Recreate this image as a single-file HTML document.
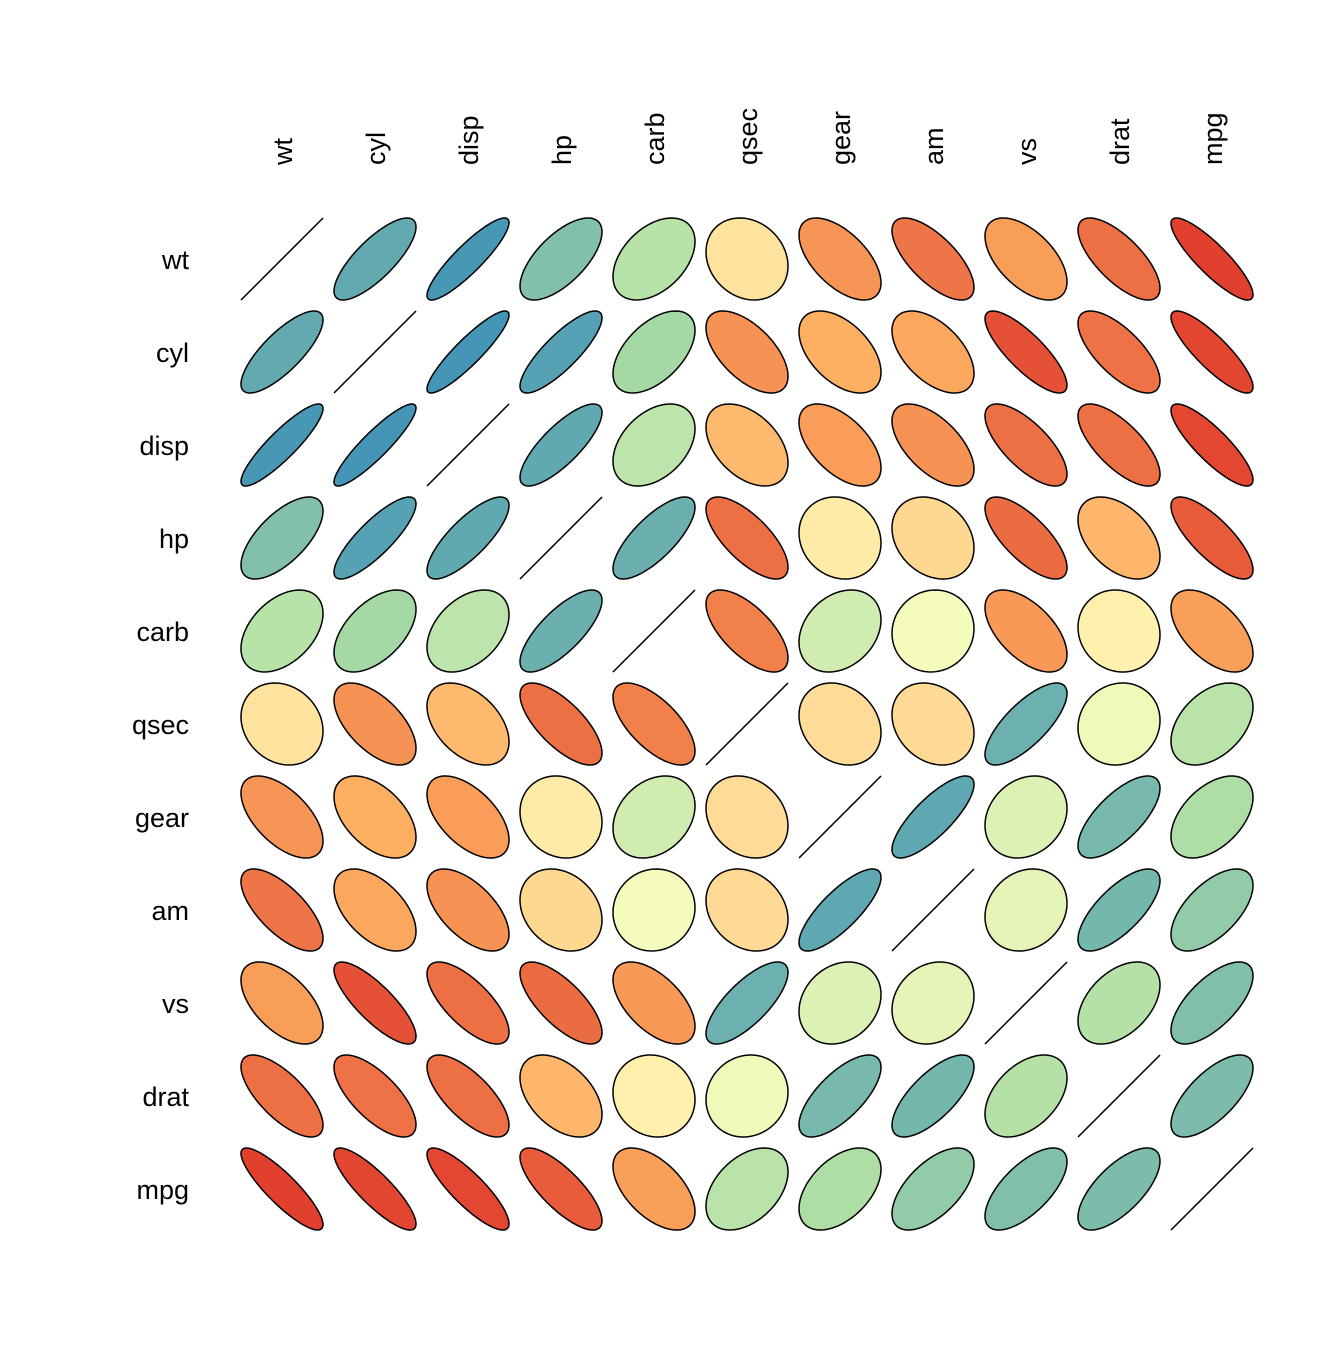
<!DOCTYPE html>
<html><head><meta charset="utf-8">
<style>
html,body{margin:0;padding:0;background:#fff;}
text{font-family:"Liberation Sans",Arial,sans-serif;font-size:27px;fill:#000;}
</style></head>
<body>
<svg id="chart" width="1344" height="1344" viewBox="0 0 1344 1344" xmlns="http://www.w3.org/2000/svg">
<g id="labels"></g>
<g id="cells"></g>
</svg>
<script>
const variables = ["wt","cyl","disp","hp","carb","qsec","gear","am","vs","drat","mpg"];
const corrWt   = [1,0.782,0.888,0.659,0.428,-0.175,-0.583,-0.692,-0.555,-0.712,-0.868];
const corrCyl  = [0.782,1,0.902,0.832,0.527,-0.591,-0.493,-0.523,-0.811,-0.700,-0.852];
const corrDisp = [0.888,0.902,1,0.791,0.395,-0.434,-0.556,-0.591,-0.710,-0.710,-0.848];
const corrHp   = [0.659,0.832,0.791,1,0.750,-0.708,-0.126,-0.243,-0.723,-0.449,-0.776];
const corrCarb = [0.428,0.527,0.395,0.750,1,-0.656,0.274,0.058,-0.570,-0.091,-0.551];
const corrQsec = [-0.175,-0.591,-0.434,-0.708,-0.656,1,-0.213,-0.230,0.745,0.091,0.419];
const corrGear = [-0.583,-0.493,-0.556,-0.126,0.274,-0.213,1,0.794,0.206,0.700,0.480];
const corrAm   = [-0.692,-0.523,-0.591,-0.243,0.058,-0.230,0.794,1,0.168,0.713,0.600];
const corrVs   = [-0.555,-0.811,-0.710,-0.723,-0.570,0.745,0.206,0.168,1,0.440,0.664];
const corrDrat = [-0.712,-0.700,-0.710,-0.449,-0.091,0.091,0.700,0.713,0.440,1,0.681];
const corrMpg  = [-0.868,-0.852,-0.848,-0.776,-0.551,0.419,0.480,0.600,0.664,0.681,1];
const corrRows = [corrWt,corrCyl,corrDisp,corrHp,corrCarb,corrQsec,corrGear,corrAm,corrVs,corrDrat,corrMpg];

const NS="http://www.w3.org/2000/svg";
const x0=282, y0=259, step=93.0, half=41;
const xPos = i => x0 + i*step;
const yPos = j => y0 + j*step;
const stops=[[215,25,28],[253,174,97],[255,255,191],[171,221,164],[43,131,186]];
function colorOf(r){
  let t=(r+1)/2*4; let k=Math.min(3,Math.floor(t)); let f=t-k;
  const a=stops[k], b=stops[k+1];
  return "rgb("+a.map((v,i)=>Math.round(v+(b[i]-v)*f)).join(",")+")";
}
const lab=document.getElementById("labels");
variables.forEach((v,i)=>{
  const t=document.createElementNS(NS,"text");
  
  
  t.setAttribute("transform","translate("+(xPos(i)+10)+",165) rotate(-90)");
  t.textContent=v; lab.appendChild(t);
  const r=document.createElementNS(NS,"text");
  
  
  r.setAttribute("x",189); r.setAttribute("y",yPos(i)+10);
  r.setAttribute("text-anchor","end");
  r.textContent=v; lab.appendChild(r);
});
const cells=document.getElementById("cells");
corrRows.forEach((row,j)=>{
  row.forEach((r,i)=>{
    const cx=xPos(i), cy=yPos(j);
    const d=Math.acos(Math.max(-1,Math.min(1,r)));
    let pts=[];
    for(let k=0;k<=100;k++){
      const t=k/100*2*Math.PI;
      pts.push((cx+half*Math.cos(t+d/2)).toFixed(2)+","+(cy-half*Math.cos(t-d/2)).toFixed(2));
    }
    const p=document.createElementNS(NS,"polygon");
    
    
    p.setAttribute("points",pts.join(" "));
    p.setAttribute("fill",r>=0.999?"none":colorOf(r));
    p.setAttribute("stroke","#000");
    p.setAttribute("stroke-width","1.5");
    cells.appendChild(p);
  });
});
</script>
</body></html>
